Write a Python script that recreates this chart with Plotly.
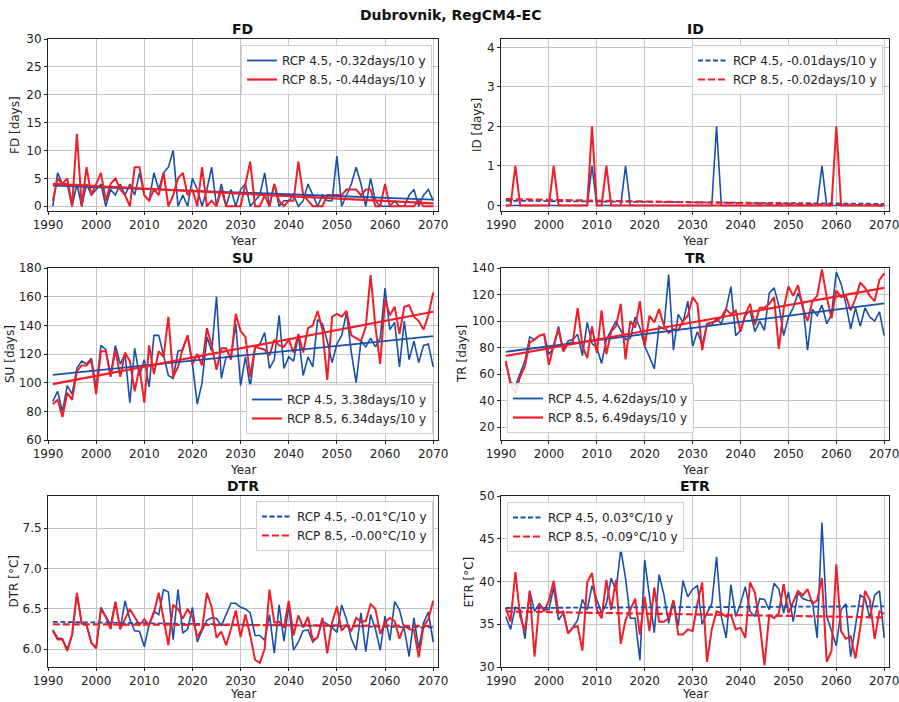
import plotly.graph_objects as go

years = list(range(1991, 2071))
x_ticks = [1990, 2000, 2010, 2020, 2030, 2040, 2050, 2060, 2070]
trend_years = [1991, 2070]

fd45 = [0, 6, 4, 4, 0, 4, 0, 4, 2, 3,
        4, 0, 3, 2, 4, 2, 4, 2, 6, 2,
        1, 6, 3, 6, 7, 10, 0, 2, 0, 5,
        3, 0, 3, 7, 0, 4, 0, 3, 0, 3,
        4, 0, 1, 2, 6, 0, 4, 0, 1, 1,
        2, 0, 1, 4, 2, 0, 2, 1, 1, 9,
        0, 2, 4, 7, 4, 0, 5, 1, 0, 0,
        0, 1, 0, 0, 2, 3, 0, 2, 3, 1]
fd85 = [1, 5, 4, 5, 0, 13, 0, 7, 2, 4,
        6, 1, 4, 5, 3, 2, 0, 7, 7, 2,
        1, 3, 2, 6, 0, 2, 5, 6, 2, 3,
        0, 7, 0, 1, 0, 3, 0, 0, 0, 0,
        4, 8, 0, 0, 2, 0, 4, 1, 0, 1,
        1, 8, 2, 1, 0, 0, 0, 2, 2, 2,
        2, 3, 3, 3, 2, 3, 3, 0, 0, 4,
        0, 0, 0, 0, 0, 0, 1, 0, 0, 0]
id45 = [0, 0, 0, 0, 0, 0, 0, 0, 0, 0,
        0, 0, 0, 0, 0, 0, 0, 0, 1, 0,
        0, 0, 0, 0, 0, 1, 0, 0, 0, 0,
        0, 0, 0, 0, 0, 0, 0, 0, 0, 0,
        0, 0, 0, 0, 2, 0, 0, 0, 0, 0,
        0, 0, 0, 0, 0, 0, 0, 0, 0, 0,
        0, 0, 0, 0, 0, 0, 1, 0, 0, 0,
        0, 0, 0, 0, 0, 0, 0, 0, 0, 0]
id85 = [0, 0, 1, 0, 0, 0, 0, 0, 0, 0,
        1, 0, 0, 0, 0, 0, 0, 0, 2, 0,
        0, 1, 0, 0, 0, 0, 0, 0, 0, 0,
        0, 0, 0, 0, 0, 0, 0, 0, 0, 0,
        0, 0, 0, 0, 0, 0, 0, 0, 0, 0,
        0, 0, 0, 0, 0, 0, 0, 0, 0, 0,
        0, 0, 0, 0, 0, 0, 0, 0, 0, 2,
        0, 0, 0, 0, 0, 0, 0, 0, 0, 0]
su45 = [87, 94, 80, 98, 92, 110, 115, 113, 117, 96,
        126, 123, 105, 126, 113, 120, 86, 124, 105, 116,
        97, 133, 133, 120, 105, 103, 122, 123, 133, 113,
        85, 100, 132, 122, 160, 103, 118, 118, 141, 98,
        118, 97, 124, 127, 135, 110, 116, 147, 110, 118,
        115, 133, 105, 118, 111, 144, 141, 129, 114, 127,
        133, 149, 121, 100, 129, 125, 131, 125, 131, 166,
        137, 142, 111, 143, 116, 129, 114, 126, 127, 111]
su85 = [85, 88, 76, 93, 88, 108, 112, 112, 116, 92,
        122, 122, 104, 123, 104, 121, 115, 94, 111, 86,
        126, 106, 122, 118, 146, 104, 111, 124, 133, 113,
        120, 112, 138, 126, 109, 124, 124, 116, 148, 136,
        132, 104, 125, 124, 123, 119, 130, 126, 125, 130,
        121, 134, 121, 138, 140, 150, 137, 102, 146, 148,
        146, 150, 133, 131, 129, 139, 175, 139, 113, 158,
        147, 153, 134, 153, 154, 146, 143, 137, 147, 163]
tr45 = [68, 54, 51, 60, 70, 88, 86, 89, 90, 75,
        80, 96, 78, 85, 86, 90, 74, 99, 83, 80,
        68, 86, 93, 100, 93, 86, 87, 103, 95, 81,
        73, 64, 96, 94, 135, 78, 105, 99, 115, 81,
        92, 82, 97, 97, 102, 98, 109, 126, 89, 93,
        104, 108, 92, 100, 93, 121, 125, 112, 89, 103,
        110, 121, 113, 78, 109, 104, 112, 98, 105, 137,
        128, 113, 94, 110, 96, 110, 103, 100, 107, 89]
tr85 = [70, 52, 46, 58, 66, 84, 86, 89, 90, 67,
        82, 94, 77, 83, 84, 110, 81, 72, 96, 76,
        108, 75, 92, 96, 113, 71, 100, 95, 115, 81,
        104, 99, 109, 97, 91, 94, 93, 100, 104, 118,
        113, 78, 98, 99, 100, 103, 109, 105, 108, 92,
        105, 113, 97, 110, 110, 113, 118, 79, 109, 126,
        119, 127, 110, 100, 115, 119, 139, 118, 102, 123,
        118, 119, 108, 117, 129, 125, 119, 115, 131, 136]
dtr45 = [6.24, 6.14, 6.13, 6.00, 6.18, 6.68, 6.32, 6.30, 6.08, 6.02,
         6.52, 6.41, 6.30, 6.59, 6.25, 6.60, 6.37, 6.23, 6.22, 6.03,
         6.31, 6.47, 6.43, 6.74, 6.71, 6.12, 6.74, 6.20, 6.25, 6.52,
         6.09, 6.23, 6.36, 6.39, 6.38, 6.29, 6.43, 6.57, 6.57, 6.52,
         6.50, 6.45, 6.17, 6.17, 6.11, 6.43, 5.95, 6.55, 6.10, 6.55,
         5.99, 6.09, 6.23, 6.24, 6.09, 6.15, 6.35, 6.31, 6.27, 6.21,
         6.55, 6.37, 6.13, 5.99, 6.45, 5.97, 6.43, 6.25, 5.99, 6.41,
         6.11, 6.59, 6.49, 6.25, 5.91, 6.39, 6.01, 6.33, 6.46, 6.09]
dtr85 = [6.23, 6.12, 6.12, 5.98, 6.18, 6.70, 6.32, 6.30, 6.08, 6.01,
         6.50, 6.40, 6.25, 6.58, 6.25, 6.38, 6.50, 6.40, 6.30, 6.37,
         6.30, 6.45, 6.70, 6.38, 6.05, 6.55, 6.50, 6.38, 6.50, 6.40,
         6.15, 6.25, 6.70, 6.52, 6.14, 6.22, 6.05, 6.25, 6.48, 6.15,
         6.43, 6.17, 5.87, 5.83, 6.01, 6.74, 6.33, 6.34, 6.27, 6.60,
         6.17, 6.42, 6.27, 6.40, 6.11, 6.15, 6.39, 5.95, 6.33, 6.53,
         6.23, 6.30, 6.23, 6.39, 6.34, 6.35, 6.56, 6.50, 6.19, 6.33,
         6.39, 6.35, 6.13, 6.29, 6.25, 6.24, 5.90, 6.29, 6.37, 6.60]
etr45 = [35.9, 34.4, 37.0, 36.7, 33.3, 38.9, 36.5, 37.4, 36.7, 36.7,
         39.3, 35.5, 36.3, 34.0, 34.6, 35.5, 37.9, 36.7, 39.5, 37.8,
         36.3, 37.4, 40.4, 38.9, 43.8, 40.4, 35.7, 35.7, 30.8, 42.5,
         38.2, 34.0, 40.8, 38.5, 35.1, 37.8, 34.8, 40.1, 38.2, 39.1,
         39.5, 35.0, 36.3, 37.4, 42.9, 35.9, 33.4, 39.6, 35.9, 37.4,
         39.4, 36.5, 35.9, 38.0, 37.9, 36.7, 39.8, 39.1, 36.3, 38.8,
         35.3, 38.7, 38.0, 37.8, 37.7, 33.4, 46.9, 35.9, 34.2, 32.5,
         36.7, 37.4, 31.2, 35.0, 38.4, 38.0, 35.7, 38.4, 38.9, 33.4]
etr85 = [36.9, 35.3, 41.1, 35.9, 34.2, 38.9, 31.2, 37.4, 36.5, 37.8,
         40.1, 36.3, 36.5, 33.9, 34.6, 34.8, 31.9, 39.9, 41.0, 36.7,
         35.7, 40.2, 36.7, 40.2, 32.7, 35.5, 36.7, 38.0, 33.8, 38.2,
         34.2, 39.3, 35.3, 35.3, 35.7, 37.8, 33.8, 33.8, 34.4, 34.2,
         37.4, 39.9, 30.6, 34.4, 36.5, 36.3, 35.9, 36.1, 34.4, 34.6,
         33.4, 39.9, 38.7, 35.1, 30.2, 36.1, 35.7, 36.3, 39.7, 36.3,
         37.6, 38.9, 38.4, 39.1, 37.4, 37.8, 40.4, 30.6, 31.9, 42.0,
         34.2, 33.3, 33.6, 31.0, 34.6, 38.9, 37.8, 33.3, 36.5, 36.2]

# linear trend values at 1991 and 2070
fd45_trend = [3.7, 1.2]
fd85_trend = [4.0, 0.5]
id45_trend = [0.12, 0.04]
id85_trend = [0.16, 0.0]
su45_trend = [105.5, 132.5]
su85_trend = [99.0, 149.5]
tr45_trend = [76.8, 113.3]
tr85_trend = [73.7, 125.0]
dtr45_trend = [6.34, 6.27]
dtr85_trend = [6.31, 6.29]
etr45_trend = [36.9, 37.1]
etr85_trend = [36.5, 35.8]

titles = ["FD", "ID", "SU", "TR", "DTR", "ETR"]
ylabels = ["FD [days]", "ID [days]", "SU [days]", "TR [days]", "DTR [°C]", "ETR [°C]"]
labels45 = ["RCP 4.5, -0.32days/10 y", "RCP 4.5, -0.01days/10 y", "RCP 4.5, 3.38days/10 y",
            "RCP 4.5, 4.62days/10 y", "RCP 4.5, -0.01°C/10 y", "RCP 4.5, 0.03°C/10 y"]
labels85 = ["RCP 8.5, -0.44days/10 y", "RCP 8.5, -0.02days/10 y", "RCP 8.5, 6.34days/10 y",
            "RCP 8.5, 6.49days/10 y", "RCP 8.5, -0.00°C/10 y", "RCP 8.5, -0.09°C/10 y"]

series45 = [fd45, id45, su45, tr45, dtr45, etr45]
series85 = [fd85, id85, su85, tr85, dtr85, etr85]
trends45 = [fd45_trend, id45_trend, su45_trend, tr45_trend, dtr45_trend, etr45_trend]
trends85 = [fd85_trend, id85_trend, su85_trend, tr85_trend, dtr85_trend, etr85_trend]

# styling / layout
W, H = 899, 702
BLUE = "#1a4fa8"
RED = "#f01e28"
FONT = "DejaVu Sans"
yranges = [[-0.85, 30], [-0.14, 4.21], [60, 180], [10.3, 140], [5.78, 7.9], [30, 50]]
ydticks = [5, 1, 20, 20, 0.5, 5]
ytick0 = [0, 0, 60, 20, 6.0, 30]
yfmt = ["", "", "", "", ".1f", ""]
dashed = [False, True, False, False, True, True]
cols_px = [(48, 438), (501, 889)]
rows_px = [(39, 211), (268, 440), (496, 667)]
year_y = [241, 470, 702]
year_anchor = ["middle", "middle", "bottom"]
ylab_x = [15, 477, 10, 462, 13, 468]
# legend: (x px, y px, xanchor, yanchor)
leg_pos = [(432, 45, "right", "top"), (883, 45, "right", "top"),
           (433, 434, "right", "bottom"), (507, 433, "left", "bottom"),
           (433, 501, "right", "top"), (507, 502, "left", "top")]


def fx(p):
    return p / W


def fy(p):
    return 1 - p / H


fig = go.Figure()
annotations = []
layout = {}

for i in range(6):
    r, c = divmod(i, 2)
    (x0, x1), (y0, y1) = cols_px[c], rows_px[r]
    n = "" if i == 0 else str(i + 1)
    xa, ya = "x" + n, "y" + n
    leg = "legend" + n
    d45 = "5px,2.5px" if dashed[i] else "solid"
    d85 = "7px,3px" if dashed[i] else "solid"

    fig.add_trace(go.Scatter(x=years, y=series45[i], mode="lines", xaxis=xa, yaxis=ya,
                             line=dict(color=BLUE, width=1.6), showlegend=False, hoverinfo="skip"))
    fig.add_trace(go.Scatter(x=years, y=series85[i], mode="lines", xaxis=xa, yaxis=ya,
                             line=dict(color=RED, width=2.0), showlegend=False, hoverinfo="skip"))
    fig.add_trace(go.Scatter(x=trend_years, y=trends45[i], mode="lines", xaxis=xa, yaxis=ya,
                             line=dict(color=BLUE, width=1.8, dash=d45), name=labels45[i],
                             legend=leg, showlegend=True))
    fig.add_trace(go.Scatter(x=trend_years, y=trends85[i], mode="lines", xaxis=xa, yaxis=ya,
                             line=dict(color=RED, width=2.2, dash=d85), name=labels85[i],
                             legend=leg, showlegend=True))

    axis_common = dict(showline=True, mirror=True, linecolor="#222", linewidth=1,
                       showgrid=True, gridcolor="#c4c4c4", gridwidth=1, zeroline=False,
                       ticks="outside", ticklen=3, tickcolor="#222", ticklabeloverflow="allow",
                       tickfont=dict(family=FONT, size=12, color="#222"), automargin=False)
    layout["xaxis" + n] = dict(axis_common, domain=[fx(x0), fx(x1)], anchor=ya,
                               range=[1990, 2071], tickmode="array", tickvals=x_ticks)
    layout["yaxis" + n] = dict(axis_common, domain=[fy(y1), fy(y0)], anchor=xa,
                               range=yranges[i], tick0=ytick0[i], dtick=ydticks[i],
                               tickformat=yfmt[i])
    lx, ly, xan, yan = leg_pos[i]
    layout[leg] = dict(x=fx(lx), y=fy(ly), xanchor=xan, yanchor=yan, xref="paper", yref="paper",
                       bgcolor="rgba(255,255,255,0.85)", bordercolor="#cfcfcf", borderwidth=1,
                       font=dict(family=FONT, size=12, color="#222"), itemwidth=30,
                       tracegroupgap=0)

    cx = (x0 + x1) / 2
    annotations.append(dict(text="<b>" + titles[i] + "</b>", x=fx(cx), y=fy(y0 - 1),
                            xref="paper", yref="paper", xanchor="center", yanchor="bottom",
                            showarrow=False, borderpad=0,
                            font=dict(family=FONT, size=14, color="#111")))
    annotations.append(dict(text="Year", x=fx(cx), y=fy(year_y[r]), xref="paper", yref="paper",
                            xanchor="center", yanchor=year_anchor[r], showarrow=False,
                            borderpad=0, font=dict(family=FONT, size=12, color="#222")))
    annotations.append(dict(text=ylabels[i], x=fx(ylab_x[i]), y=fy((y0 + y1) / 2),
                            xref="paper", yref="paper", xanchor="center", yanchor="middle",
                            textangle=-90, showarrow=False,
                            font=dict(family=FONT, size=12, color="#222")))

annotations.append(dict(text="<b>Dubrovnik, RegCM4-EC</b>", x=fx(450), y=fy(15),
                        xref="paper", yref="paper", xanchor="center", yanchor="middle",
                        showarrow=False, font=dict(family=FONT, size=14, color="#111")))

fig.update_layout(width=W, height=H, margin=dict(l=0, r=0, t=0, b=0),
                  paper_bgcolor="white", plot_bgcolor="white",
                  font=dict(family=FONT, size=12), annotations=annotations, **layout)

fig.write_html("out.html")
